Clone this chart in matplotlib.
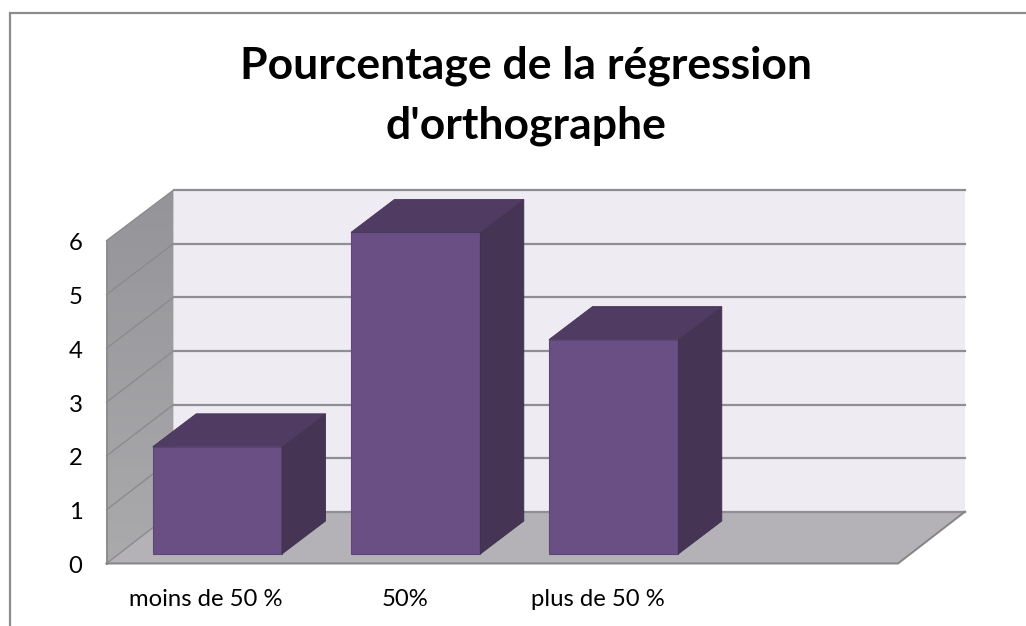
import matplotlib
matplotlib.use("Agg")
import matplotlib.pyplot as plt
import numpy as np
from matplotlib.colors import LinearSegmentedColormap
from matplotlib.patches import Polygon, Rectangle

categories = ["moins de 50 %", "50%", "plus de 50 %"]
values = [2, 6, 4]
yticks = [0, 1, 2, 3, 4, 5, 6]
title_lines = ["Pourcentage de la régression", "d'orthographe"]

W, H = 1026, 626
plt.rcParams['font.family'] = ['Lato', 'DejaVu Sans']
fig = plt.figure(figsize=(W/100, H/100), dpi=100)
ax = fig.add_axes([0, 0, 1, 1])

# chart frame (open on the right and at the bottom)
ax.plot([10, 10, 1026], [626, 13, 13], color="#8c8c8c", lw=1.6, solid_joinstyle="miter")

# 3D geometry
x0, y0 = 106.5, 563.5   # front-left floor corner
x1, y1 = 173.5, 511.7   # back-left floor corner
xr = 898                # front-right floor corner
xbr = 965               # back-right corner
ufront = 53.8
uback = 53.6
def yf(v): return y0 - v * ufront
def yb(v): return y1 - v * uback
vmax = max(yticks)

# back wall, floor
ax.add_patch(Polygon([(x1, y1), (xbr, y1), (xbr, yb(vmax)), (x1, yb(vmax))], fc="#eeecf2", ec="none"))
ax.add_patch(Polygon([(x0, y0), (xr, y0), (xbr, y1), (x1, y1)], fc="#b4b2b7", ec="none"))

# side wall with soft vertical gradient
wall = Polygon([(x0, y0), (x1, y1), (x1, yb(vmax)), (x0, yf(vmax))], fc="none", ec="none")
ax.add_patch(wall)
cmap = LinearSegmentedColormap.from_list("wall", ["#959498", "#aaa9ac"])
im = ax.imshow(np.linspace(0, 1, 64).reshape(-1, 1), cmap=cmap, aspect="auto",
               extent=(x0, x1, y0, yb(vmax)), origin="upper", zorder=1)
im.set_clip_path(wall)

# gridlines
for v in yticks:
    ax.plot([x0, x1], [yf(v), yb(v)], color="#8b8a8d", lw=1.0, zorder=2)
    ax.plot([x1, xbr], [yb(v), yb(v)], color="#8f8e92", lw=1.6, zorder=2)
    ax.text(75.5, yf(v) + 9.5, str(v), ha="center", va="baseline", fontsize=17.2, color="black")
ax.plot([x0, x0], [y0, yf(vmax)], color="#8c8c8c", lw=1.4, zorder=2)
ax.plot([x0, xr, xbr], [y0, y0, y1], color="#858585", lw=1.4, zorder=2)

# bars
bar_lefts = [152.7, 351, 549]
bw = 129.3
bdx, bdy = 43.5, -33
by0 = 554
label_x = [129, 382, 531]
for l, c, v, lx in zip(bar_lefts, categories, values, label_x):
    r = l + bw
    t = by0 - v * uback
    ax.add_patch(Rectangle((l, t), bw, by0 - t, fc="#6a4f85", ec="#5f4679", lw=0.8, zorder=3))
    ax.add_patch(Polygon([(r, by0), (r+bdx, by0+bdy), (r+bdx, t+bdy), (r, t)], fc="#463455", ec="#3f2f4d", lw=0.6, zorder=3))
    ax.add_patch(Polygon([(l, t), (l+bdx, t+bdy), (r+bdx, t+bdy), (r, t)], fc="#503c63", ec="#483659", lw=0.6, zorder=3))
    ax.text(lx, 606.5, c, ha="left", va="baseline", fontsize=17.2, color="black")

for line, base in zip(title_lines, [79, 138]):
    ax.text(525.5, base, line, ha="center", va="baseline", fontsize=32, fontweight="bold", color="black")

ax.set_xlim(0, W); ax.set_ylim(H, 0); ax.axis("off")
fig.savefig("out.png", dpi=100)
